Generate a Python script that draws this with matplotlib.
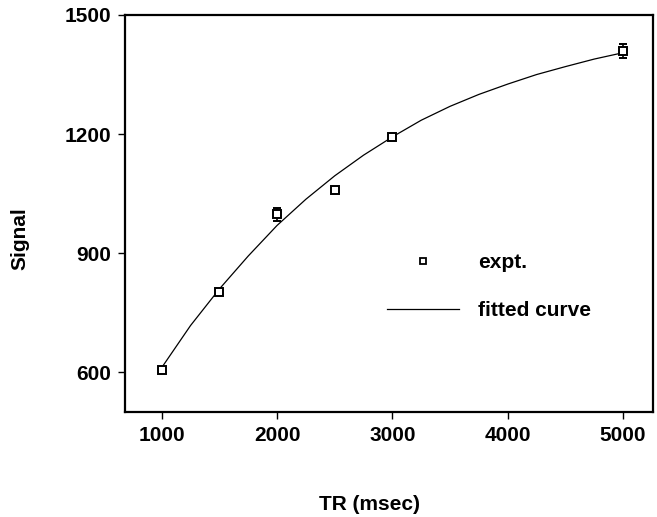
import matplotlib
matplotlib.use("Agg")
import matplotlib.pyplot as plt
from matplotlib.lines import Line2D

plt.rcParams['font.family'] = ['Liberation Sans', 'DejaVu Sans']
plt.rcParams['font.weight'] = 'bold'

# measured points
tr_expt = [1000, 1500, 2000, 2500, 3000, 5000]
signal_expt = [605, 803, 998, 1059, 1193, 1409]
signal_err = [0, 0, 17, 0, 0, 18]

# fitted curve
tr_fit = [1000, 1250, 1500, 1750, 2000, 2250, 2500, 2750, 3000,
          3250, 3500, 3750, 4000, 4250, 4500, 4750, 5000]
signal_fit = [612, 718, 810, 893, 970, 1036, 1095, 1147, 1193,
              1235, 1270, 1300, 1326, 1350, 1370, 1389, 1405]

x_ticks = [1000, 2000, 3000, 4000, 5000]
y_ticks = [600, 900, 1200, 1500]

fs = 15
fig = plt.figure(figsize=(6.57, 5.17), dpi=100)
ax = fig.add_axes([0.190, 0.203, 0.804, 0.768])

ax.plot(tr_fit, signal_fit, color='black', lw=0.9)
ax.errorbar(tr_expt, signal_expt, yerr=signal_err, fmt='s', ms=6,
            mfc='white', mec='black', mew=1.4, ecolor='black',
            elinewidth=1.2, capsize=3, zorder=3)

ax.set_xlim(680, 5260)
ax.set_ylim(500, 1500)
ax.set_xticks(x_ticks)
ax.set_yticks(y_ticks)
ax.tick_params(direction='out', length=5, width=1, labelsize=fs, pad=5)
for s in ax.spines.values():
    s.set_linewidth(1.6)

ax.set_xlabel('TR (msec)', fontsize=fs, fontweight='bold')
ax.set_ylabel('Signal', fontsize=fs, fontweight='bold')
ax.xaxis.set_label_coords(0.464, -0.209)
ax.yaxis.set_label_coords(-0.180, 0.436)

handles = [
    Line2D([], [], ls='none', marker='s', ms=5, mfc='white', mec='black', mew=1.3),
    Line2D([], [], color='black', lw=0.9),
]
ax.legend(handles, ['expt.', 'fitted curve'], frameon=False, fontsize=fs,
          loc='upper left', bbox_to_anchor=(0.496, 0.40), borderpad=0,
          borderaxespad=0, handlelength=3.45, handletextpad=0.95,
          labelspacing=1.4)

fig.savefig('out.png', dpi=100)
